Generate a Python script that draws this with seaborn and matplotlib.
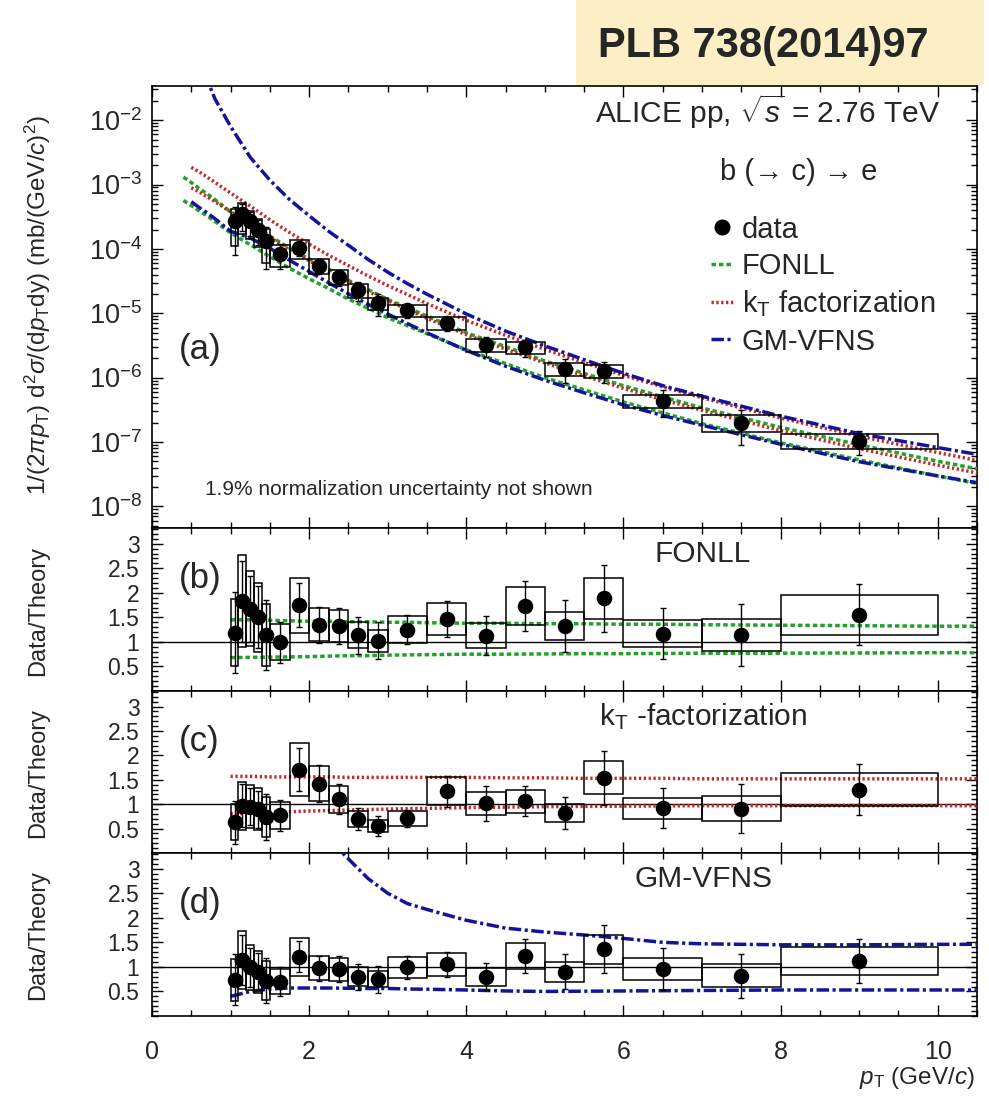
import numpy as np
import matplotlib
matplotlib.use("Agg")
import matplotlib.pyplot as plt
import seaborn as sns
from matplotlib.patches import Rectangle
from matplotlib.lines import Line2D
from matplotlib.ticker import FixedLocator, MultipleLocator, NullFormatter, LogFormatterSciNotation

# ---------------- data ----------------
bin_edges = [1.0, 1.1, 1.2, 1.3, 1.4, 1.5, 1.75, 2.0, 2.25, 2.5, 2.75, 3.0,
             3.5, 4.0, 4.5, 5.0, 5.5, 6.0, 7.0, 8.0, 10.0]
sigma = [2.67e-4, 3.43e-4, 2.67e-4, 2.0e-4, 1.32e-4, 8.3e-5, 1.03e-4, 5.5e-5,
         3.7e-5, 2.3e-5, 1.44e-5, 1.12e-5, 7.1e-6, 3.2e-6, 2.95e-6, 1.38e-6,
         1.28e-6, 4.4e-7, 2.0e-7, 1.04e-7]
stat_rel = [0.70, 0.45, 0.40, 0.42, 0.63, 0.42, 0.26, 0.27, 0.28, 0.33, 0.37,
            0.24, 0.25, 0.35, 0.29, 0.40, 0.36, 0.45, 0.55, 0.40]
sys_rel = [0.58, 0.51, 0.46, 0.47, 0.55, 0.37, 0.32, 0.25, 0.25, 0.24, 0.22,
           0.22, 0.22, 0.23, 0.22, 0.22, 0.22, 0.235, 0.29, 0.26]
ratio_fonll = [1.19, 1.83, 1.68, 1.50, 1.14, 0.99, 1.75, 1.35, 1.32, 1.14, 1.02,
               1.25, 1.47, 1.13, 1.73, 1.32, 1.89, 1.17, 1.14, 1.55]
ratio_kt = [0.63, 0.97, 0.95, 0.90, 0.74, 0.77, 1.71, 1.42, 1.10, 0.70, 0.55,
            0.71, 1.27, 1.02, 1.06, 0.82, 1.54, 0.92, 0.91, 1.30]
ratio_gm = [0.74, 1.14, 0.99, 0.90, 0.72, 0.70, 1.21, 0.97, 0.95, 0.80, 0.75,
            0.99, 1.05, 0.80, 1.22, 0.90, 1.36, 0.96, 0.82, 1.12]

# theory curves: grid, central value, upper/central and lower/central
pt_grid = [0.4, 0.5, 0.6, 0.7, 0.8, 1.0, 1.25, 1.5, 1.75, 2.0, 2.25, 2.5, 2.75,
           3.0, 3.25, 3.5, 4.0, 4.5, 5.0, 5.5, 6.0, 6.5, 7.0, 8.0, 9.0, 10.0, 10.5]
nan = np.nan
fonll_central = [8.7e-4, 7.2e-4, 5.9e-4, 4.9e-4, 4.0e-4, 2.6e-4, 1.7e-4, 1.1e-4,
                 7.2e-5, 4.9e-5, 3.4e-5, 2.3e-5, 1.66e-5, 1.17e-5, 8.7e-6, 6.5e-6,
                 3.6e-6, 2.2e-6, 1.32e-6, 8.5e-7, 5.5e-7, 3.7e-7, 2.5e-7, 1.26e-7,
                 6.8e-8, 3.8e-8, 2.9e-8]
fonll_up = [1.50, 1.49, 1.48, 1.47, 1.46, 1.45, 1.45, 1.44, 1.43, 1.42, 1.42, 1.41,
            1.41, 1.40, 1.40, 1.39, 1.38, 1.38, 1.37, 1.37, 1.36, 1.36, 1.35, 1.34,
            1.33, 1.32, 1.32]
fonll_low = [0.65, 0.655, 0.66, 0.665, 0.67, 0.68, 0.685, 0.69, 0.695, 0.70, 0.71,
             0.72, 0.72, 0.73, 0.735, 0.74, 0.75, 0.75, 0.755, 0.76, 0.76, 0.765,
             0.77, 0.77, 0.775, 0.78, 0.78]
kt_central = [nan, 1.17e-3, 1.0e-3, 8.3e-4, 6.9e-4, 4.7e-4, 2.95e-4, 1.82e-4,
              1.15e-4, 7.6e-5, 5.1e-5, 3.55e-5, 2.45e-5, 1.74e-5, 1.26e-5, 9.1e-6,
              5.0e-6, 2.95e-6, 1.78e-6, 1.12e-6, 7.1e-7, 4.7e-7, 3.2e-7, 1.55e-7,
              8.1e-8, 4.5e-8, 3.4e-8]
kt_up = [nan, 1.58, 1.58, 1.58, 1.57, 1.57, 1.57, 1.56, 1.56, 1.56, 1.56, 1.55,
         1.55, 1.55, 1.55, 1.55, 1.55, 1.54, 1.54, 1.53, 1.53, 1.53, 1.52, 1.52,
         1.52, 1.52, 1.52]
kt_low = [nan, 0.76, 0.77, 0.78, 0.79, 0.80, 0.815, 0.83, 0.845, 0.86, 0.87, 0.88,
          0.89, 0.90, 0.91, 0.915, 0.93, 0.94, 0.95, 0.955, 0.96, 0.965, 0.97,
          0.97, 0.97, 0.97, 0.97]
gm_central = [nan, 1.26e-3, 1.05e-3, 8.7e-4, 7.2e-4, 4.7e-4, 2.95e-4, 1.86e-4,
              1.17e-4, 7.8e-5, 5.2e-5, 3.55e-5, 2.45e-5, 1.74e-5, 1.26e-5, 9.1e-6,
              5.0e-6, 2.95e-6, 1.82e-6, 1.15e-6, 7.4e-7, 5.0e-7, 3.5e-7, 1.74e-7,
              9.3e-8, 5.6e-8, 4.4e-8]
gm_up = [nan, 200.0, 90.0, 50.0, 30.0, 17.0, 9.0, 6.3, 5.0, 4.2, 3.6, 3.2, 2.8,
         2.5, 2.29, 2.17, 1.95, 1.79, 1.71, 1.65, 1.58, 1.50, 1.47, 1.45, 1.45,
         1.46, 1.46]
gm_low = [nan, 0.43, 0.42, 0.42, 0.41, 0.40, 0.50, 0.55, 0.57, 0.57, 0.57, 0.565,
          0.56, 0.56, 0.55, 0.545, 0.53, 0.51, 0.50, 0.505, 0.51, 0.515, 0.52,
          0.53, 0.53, 0.53, 0.53]

log_yticks = [1e-8, 1e-7, 1e-6, 1e-5, 1e-4, 1e-3, 1e-2]
ratio_yticks = [0.5, 1, 1.5, 2, 2.5, 3]
ratio_yticklabels = ["0.5", "1", "1.5", "2", "2.5", "3"]
x_ticks = [0, 2, 4, 6, 8, 10]

# ---------------- style ----------------
sns.set_theme(style="ticks")
plt.rcParams['font.family'] = ['Liberation Sans', 'DejaVu Sans']
plt.rcParams['mathtext.fontset'] = 'custom'
plt.rcParams['mathtext.rm'] = 'Liberation Sans'
plt.rcParams['mathtext.it'] = 'Liberation Sans:italic'
plt.rcParams['mathtext.bf'] = 'Liberation Sans:bold'
plt.rcParams['axes.linewidth'] = 1.2

GREEN = "#22a22a"
RED = "#c62828"
BLUE = "#14149a"
LS_FONLL = (0, (1.3, 0.85))
LS_KT = (0, (0.65, 0.75))
LS_GM = (0, (3.6, 1.0, 0.9, 1.0))
LW = 2.5

W, H = 989, 1101
fig = plt.figure(figsize=(W / 100, H / 100), dpi=100)


def frac_axes(top, bottom):
    left, right = 152, 977
    return fig.add_axes([left / W, 1 - bottom / H, (right - left) / W, (bottom - top) / H])


ax_a = frac_axes(86, 528)
ax_b = frac_axes(528, 691)
ax_c = frac_axes(691, 853)
ax_d = frac_axes(853, 1016)

edges = np.array(bin_edges)
pt = 0.5 * (edges[:-1] + edges[1:])
grid = np.array(pt_grid)


def draw_points(ax, yv, zorder=5):
    yv = np.asarray(yv)
    st = np.asarray(stat_rel)
    sy = np.asarray(sys_rel)
    for lo, hi, v, s in zip(edges[:-1], edges[1:], yv, sy):
        ax.add_patch(Rectangle((lo, v * (1 - s)), hi - lo, 2 * v * s, fill=False,
                               ec="black", lw=1.1, zorder=4))
    ax.errorbar(pt, yv, yerr=yv * st, fmt="none", ecolor="black", elinewidth=1.0,
                capsize=2.2, capthick=1.0, zorder=4)
    sns.scatterplot(x=pt, y=yv, ax=ax, color="black", s=125, linewidth=0,
                    zorder=zorder, legend=False)


def draw_curve(ax, x, y, color, ls):
    x = np.asarray(x)
    y = np.asarray(y, dtype=float)
    m = np.isfinite(y)
    sns.lineplot(x=x[m], y=y[m], ax=ax, color=color, lw=LW, linestyle=ls,
                 estimator=None, legend=False, zorder=3)


theories = [
    (fonll_central, fonll_up, fonll_low, GREEN, LS_FONLL),
    (kt_central, kt_up, kt_low, RED, LS_KT),
    (gm_central, gm_up, gm_low, BLUE, LS_GM),
]

# ---------- panel (a) ----------
ax_a.set_yscale("log")
for cen, up, lo, col, ls in theories:
    cen = np.asarray(cen, dtype=float)
    draw_curve(ax_a, grid, cen * np.asarray(up, dtype=float), col, ls)
    draw_curve(ax_a, grid, cen * np.asarray(lo, dtype=float), col, ls)
draw_points(ax_a, sigma)
ax_a.set_ylim(4.6e-9, 3.4e-2)
ax_a.yaxis.set_major_locator(FixedLocator(log_yticks))
ax_a.yaxis.set_major_formatter(LogFormatterSciNotation())
minor_log = [m * d for d in [1e-9] + log_yticks for m in range(2, 10)
             if 4.6e-9 <= m * d <= 3.4e-2]
ax_a.yaxis.set_minor_locator(FixedLocator(minor_log))
ax_a.yaxis.set_minor_formatter(NullFormatter())

ax_a.text(0.955, 0.941, r"ALICE pp, $\sqrt{s}$ = 2.76 TeV", transform=ax_a.transAxes,
          ha="right", va="center", fontsize=21.5)
ax_a.text(0.032, 0.403, "(a)", transform=ax_a.transAxes, ha="left", va="center",
          fontsize=25)
ax_a.text(0.064, 0.088, "1.9% normalization uncertainty not shown",
          transform=ax_a.transAxes, ha="left", va="center", fontsize=15)
ax_a.text(0.688, 0.806, "b (\u2192 c) \u2192 e", transform=ax_a.transAxes,
          ha="left", va="center", fontsize=21)

handles = [
    Line2D([], [], marker="o", ls="none", color="black", ms=10.5),
    Line2D([], [], color=GREEN, ls=LS_FONLL, lw=LW),
    Line2D([], [], color=RED, ls=LS_KT, lw=LW),
    Line2D([], [], color=BLUE, ls=LS_GM, lw=LW),
]
labels = ["data", "FONLL", r"k$_{\rm T}$ factorization", "GM-VFNS"]
leg = ax_a.legend(handles, labels, loc="upper left",
                  bbox_to_anchor=(0.678, 0.707), frameon=False, fontsize=21,
                  handlelength=0.75, handletextpad=0.3, labelspacing=0.29,
                  borderaxespad=0, borderpad=0)

# ---------- ratio panels ----------
ratio_info = [
    (ax_b, ratio_fonll, theories[0], "(b)", "FONLL"),
    (ax_c, ratio_kt, theories[1], "(c)", r"k$_{\rm T}$ -factorization"),
    (ax_d, ratio_gm, theories[2], "(d)", "GM-VFNS"),
]
rmask = grid >= 1.0
for ax, rv, (cen, up, lo, col, ls), plab, title in ratio_info:
    ax.axhline(1.0, color="black", lw=1.0, zorder=2)
    draw_curve(ax, grid[rmask], np.asarray(up, dtype=float)[rmask], col, ls)
    draw_curve(ax, grid[rmask], np.asarray(lo, dtype=float)[rmask], col, ls)
    draw_points(ax, rv)
    ax.set_ylim(0, 3.32)
    ax.yaxis.set_major_locator(FixedLocator(ratio_yticks))
    ax.set_yticklabels(ratio_yticklabels)
    ax.yaxis.set_minor_locator(MultipleLocator(0.1))
    ax.text(0.032, 0.69, plab, transform=ax.transAxes, ha="left", va="center",
            fontsize=25)
    ax.text(0.668, 0.84, title, transform=ax.transAxes, ha="center", va="center",
            fontsize=21.5)
    ax.tick_params(axis="y", labelsize=16.5, pad=9)

for ax, yc in [(ax_b, 611), (ax_c, 773), (ax_d, 935)]:
    fig.text(38 / W, 1 - yc / H, "Data/Theory", rotation=90, ha="center",
             va="center", fontsize=17)

fig.text(38 / W, 1 - 305 / H,
         r"1/(2$\pi$$p_{\rm T}$) d$^{2}\sigma$/(d$p_{\rm T}$dy) (mb/(GeV/$c$)$^{2}$)",
         rotation=90, ha="center", va="center", fontsize=17.5)

for ax in [ax_a, ax_b, ax_c, ax_d]:
    ax.set_xlim(0, 10.5)
    ax.xaxis.set_major_locator(FixedLocator(x_ticks))
    ax.xaxis.set_minor_locator(MultipleLocator(0.5))
    ax.tick_params(which="both", direction="in", top=True, right=True,
                   width=1.0, color="black")
    ax.tick_params(which="major", length=8)
    ax.tick_params(which="minor", length=4)
    ax.set_xlabel("")
    ax.set_ylabel("")
    for sp in ax.spines.values():
        sp.set_linewidth(1.2)
        sp.set_color("black")
    if ax is not ax_d:
        ax.tick_params(axis="x", labelbottom=False)

ax_a.tick_params(axis="y", labelsize=19.5, pad=7)
ax_d.tick_params(axis="x", labelsize=18, pad=17)

fig.text(975 / W, 1 - 1078 / H, r"$p_{\rm T}$ (GeV/$c$)", ha="right", va="center",
         fontsize=17.5)

# journal reference box
fig.add_artist(Rectangle((576 / W, 1 - 85 / H), (984 - 576) / W, 85 / H,
                         transform=fig.transFigure, fc="#fcefc6", ec="none",
                         zorder=10))
fig.text(763 / W, 1 - 46 / H, "PLB 738(2014)97", ha="center", va="center",
         fontsize=30, weight="bold", zorder=11)

fig.savefig("out.png", dpi=100)
